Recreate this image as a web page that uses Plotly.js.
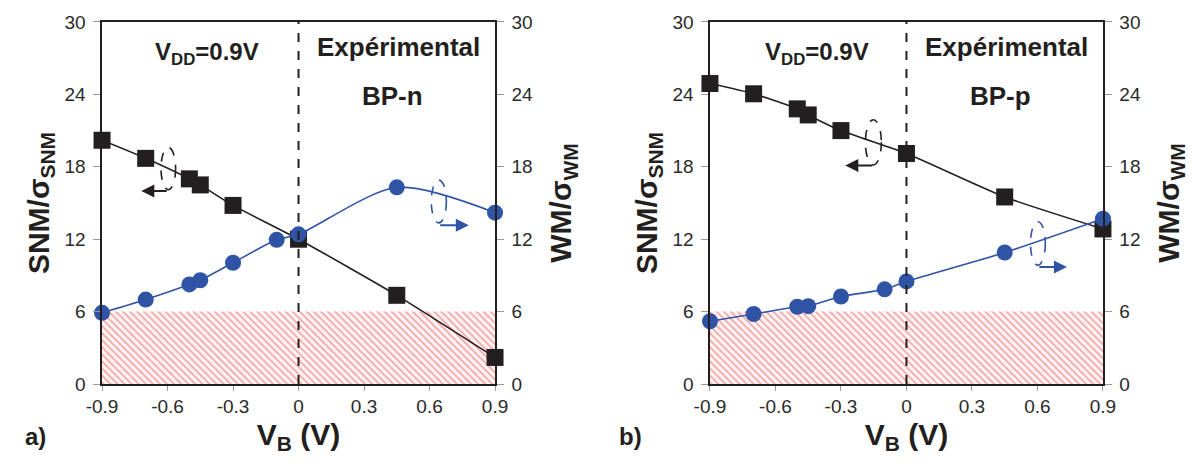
<!DOCTYPE html>
<html>
<head>
<meta charset="utf-8">
<script src="https://cdn.plot.ly/plotly-3.0.1.min.js"></script>
<style>html,body{margin:0;padding:0;background:#fff;}#chart{width:1192px;height:464px;}</style>
</head>
<body>
<div id="chart"></div>
<script>
// ---- data ----
const vbSNM = [-0.9, -0.7, -0.5, -0.45, -0.3, 0, 0.45, 0.9];
const vbWM = [-0.9, -0.7, -0.5, -0.45, -0.3, -0.1, 0, 0.45, 0.9];
const snmA = [20.2, 18.7, 17.0, 16.5, 14.8, 12.0, 7.35, 2.2];
const wmA = [5.9, 7.0, 8.25, 8.6, 10.05, 11.95, 12.4, 16.3, 14.2];
const snmB = [24.9, 24.05, 22.8, 22.3, 21.0, 19.1, 15.5, 12.85];
const wmB = [5.2, 5.8, 6.4, 6.45, 7.25, 7.85, 8.5, 10.9, 13.7];
const thresholdX = [-0.9, 0.9];
const thresholdY = [6, 6];
const xTicks = [-0.9, -0.6, -0.3, 0, 0.3, 0.6, 0.9];
const xTickText = ['-0.9', '-0.6', '-0.3', '0', '0.3', '0.6', '0.9'];
const yTicks = [0, 6, 12, 18, 24, 30];
const panelLabels = ['a)', 'b)'];
const deviceLabels = ['BP-n', 'BP-p'];

const FONT = 'Liberation Sans, Arial, sans-serif';
const INK = '#231f20';
const BLUE = '#2f54a6';
const TICKC = '#999999';

function hatch(xa, ya) {
  return {x: thresholdX, y: thresholdY, xaxis: xa, yaxis: ya, mode: 'none', fill: 'tozeroy',
    fillcolor: 'rgba(0,0,0,0)', hoverinfo: 'skip', showlegend: false,
    fillpattern: {shape: '\\', fgcolor: '#f4a8a8', bgcolor: '#fff5f5', size: 5, solidity: 0.35}};
}
function snmTrace(y, xa, ya) {
  return {x: vbSNM, y: y, xaxis: xa, yaxis: ya, mode: 'lines+markers', cliponaxis: false, showlegend: false,
    line: {color: INK, width: 1.6, shape: 'spline', smoothing: 0.6},
    marker: {symbol: 'square', size: 17, color: INK}};
}
function wmTrace(y, xa, ya) {
  return {x: vbWM, y: y, xaxis: xa, yaxis: ya, mode: 'lines+markers', cliponaxis: false, showlegend: false,
    line: {color: BLUE, width: 1.6, shape: 'spline', smoothing: 0.8},
    marker: {symbol: 'circle', size: 16, color: BLUE}};
}

const data = [
  hatch('x', 'y'), snmTrace(snmA, 'x', 'y'), wmTrace(wmA, 'x', 'y2'),
  hatch('x2', 'y3'), snmTrace(snmB, 'x2', 'y3'), wmTrace(wmB, 'x2', 'y4')
];

function xAxis(domain, anchor) {
  return {domain: domain, anchor: anchor, range: [-0.9, 0.9], tickvals: xTicks, ticktext: xTickText,
    ticks: 'outside', ticklen: 5, tickcolor: TICKC, tickwidth: 1, showgrid: false, zeroline: false,
    showline: true, linecolor: INK, linewidth: 1.6, mirror: true,
    tickfont: {family: FONT, size: 19, color: '#2a2a2a'},
    title: {text: 'V<sub>B</sub> (V)', font: {family: FONT, size: 30, color: INK, weight: 'bold'}, standoff: 7}};
}
function yAxis(anchor, side, overlay, title, standoff) {
  const a = {domain: [0.1724, 0.9526], anchor: anchor, side: side, range: [0, 30], tickvals: yTicks,
    ticks: 'outside', ticklen: 7, tickcolor: TICKC, tickwidth: 1, showgrid: false, zeroline: false,
    showline: true, linecolor: INK, linewidth: 1.6, ticklabelstandoff: 4,
    tickfont: {family: FONT, size: 19, color: '#2a2a2a'},
    title: {text: title, font: {family: FONT, size: 30, color: INK, weight: 'bold'}, standoff: standoff}};
  if (overlay) a.overlaying = overlay;
  return a;
}

const shapes = [];
const annotations = [];
[['x', 'y'], ['x2', 'y3']].forEach(function (p, i) {
  shapes.push({type: 'line', xref: p[0], yref: p[1], x0: 0, x1: 0, y0: 0, y1: 30,
    line: {color: INK, width: 2, dash: 'dash'}});
  annotations.push({xref: p[0], yref: p[1], x: i === 0 ? -0.42 : -0.41, y: 27.4, showarrow: false,
    text: 'V<sub>DD</sub>=0.9V', font: {family: FONT, size: 24, color: INK, weight: 'bold'}});
  annotations.push({xref: p[0], yref: p[1], x: 0.46, y: 27.9, showarrow: false,
    text: 'Expérimental', font: {family: FONT, size: 26, color: INK, weight: 'bold'}});
  annotations.push({xref: p[0], yref: p[1], x: 0.43, y: 23.9, showarrow: false,
    text: deviceLabels[i], font: {family: FONT, size: 26, color: INK, weight: 'bold'}});
  annotations.push({xref: 'paper', yref: 'paper', x: i === 0 ? 0.0195 : 0.529, y: 0.026, showarrow: false,
    text: panelLabels[i], font: {family: FONT, size: 24, color: INK, weight: 'bold'}});
});

// ellipse + arrow markers indicating which axis each curve uses
function ellipse(xa, ya, x0, x1, y0, y1, color) {
  shapes.push({type: 'circle', xref: xa, yref: ya, x0: x0, x1: x1, y0: y0, y1: y1,
    line: {color: color, width: 1.6, dash: 'dash'}});
}
function arrow(xa, ya, xt, xh, y, color) {
  annotations.push({xref: xa, yref: ya, axref: xa, ayref: ya, x: xh, y: y, ax: xt, ay: y,
    showarrow: true, arrowhead: 2, arrowsize: 1.3, arrowwidth: 2, arrowcolor: color, text: ''});
}
ellipse('x', 'y', -0.63, -0.563, 16.1, 19.6, INK);
arrow('x', 'y', -0.597, -0.72, 16.0, INK);
ellipse('x', 'y', 0.608, 0.677, 13.35, 16.9, BLUE);
arrow('x', 'y', 0.642, 0.78, 13.15, BLUE);
ellipse('x2', 'y3', -0.188, -0.115, 18.15, 21.9, INK);
arrow('x2', 'y3', -0.15, -0.28, 18.1, INK);
ellipse('x2', 'y3', 0.568, 0.636, 9.85, 13.45, BLUE);
arrow('x2', 'y3', 0.602, 0.735, 9.7, BLUE);

const layout = {
  width: 1192, height: 464, margin: {l: 0, r: 0, t: 0, b: 0},
  paper_bgcolor: '#ffffff', plot_bgcolor: 'rgba(0,0,0,0)', showlegend: false,
  font: {family: FONT, color: INK},
  xaxis: xAxis([0.0856, 0.4153], 'y'),
  yaxis: yAxis('x', 'left', null, 'SNM/σ<sub>SNM</sub>', 6),
  yaxis2: yAxis('x', 'right', 'y', 'WM/σ<sub>WM</sub>', 18),
  xaxis2: xAxis([0.5956, 0.9253], 'y3'),
  yaxis3: yAxis('x2', 'left', null, 'SNM/σ<sub>SNM</sub>', 6),
  yaxis4: yAxis('x2', 'right', 'y3', 'WM/σ<sub>WM</sub>', 18),
  shapes: shapes, annotations: annotations
};

Plotly.newPlot('chart', data, layout, {displayModeBar: false, staticPlot: true});
</script>
</body>
</html>
